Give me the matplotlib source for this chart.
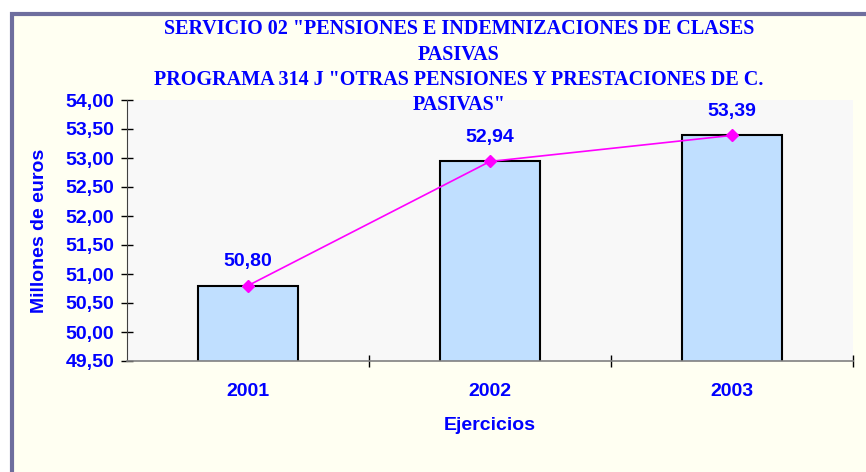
#!/usr/bin/env python3
import numpy as np
import matplotlib.pyplot as plt
from matplotlib.patches import Rectangle

years = ['2001', '2002', '2003']
values = [50.80, 52.94, 53.39]
yticks = [49.5, 50.0, 50.5, 51.0, 51.5, 52.0, 52.5, 53.0, 53.5, 54.0]
title_lines = ['SERVICIO 02 "PENSIONES E INDEMNIZACIONES DE CLASES',
               'PASIVAS',
               'PROGRAMA 314 J "OTRAS PENSIONES Y PRESTACIONES DE C.',
               'PASIVAS"']

BLUE = '#0000FF'
W, H = 866, 472

fig = plt.figure(figsize=(W / 100, H / 100), dpi=100, facecolor='white')
# chart frame
fig.patches.append(Rectangle((12 / W, -0.05), 1.1, (H - 14) / H + 0.05,
                             transform=fig.transFigure, facecolor='#FFFFF2',
                             edgecolor='#6E6E9E', linewidth=3, zorder=-5))

ax = fig.add_axes([127 / W, (H - 361) / H, 726 / W, 261 / H])
ax.set_facecolor('#F8F8F8')

x = np.arange(len(years))
ax.bar(x, values, width=0.41, bottom=0, color='#C0DFFF',
       edgecolor='black', linewidth=1.5, zorder=2)
ax.plot(x, values, color='#FF00FF', linewidth=1.2, marker='D',
        markersize=6, zorder=3)
for xi, v in zip(x, values):
    ax.annotate(f'{v:.2f}'.replace('.', ','), (xi, v), xytext=(0, 17.5),
                textcoords='offset points', ha='center', va='center',
                color=BLUE, fontsize=14, fontweight='bold',
                family='Liberation Sans')

ax.set_xlim(-0.5, 2.5)
ax.set_ylim(49.5, 54.0)
ax.set_yticks(yticks)
ax.set_yticklabels([f'{v:.2f}'.replace('.', ',') for v in yticks])
ax.set_xticks(x)
ax.set_xticklabels(years)
ax.set_xticks([0.5, 1.5, 2.5], minor=True)
ax.tick_params(axis='x', which='major', length=0, pad=16)
ax.tick_params(axis='x', which='minor', direction='inout', length=8, width=1)
ax.tick_params(axis='y', direction='inout', length=8, width=1, pad=5)
for lab in ax.get_xticklabels() + ax.get_yticklabels():
    lab.set_color(BLUE)
    lab.set_fontsize(14)
    lab.set_fontweight('bold')
    lab.set_family('Liberation Sans')

for s in ['top', 'right']:
    ax.spines[s].set_visible(False)
ax.spines['bottom'].set_color('#808080')
ax.spines['bottom'].set_linewidth(1.2)
ax.spines['left'].set_color('#404040')

ax.set_xlabel('Ejercicios', color=BLUE, fontsize=14, fontweight='bold',
              family='Liberation Sans', labelpad=12)
ax.set_ylabel('Millones de euros', color=BLUE, fontsize=14, fontweight='bold',
              family='Liberation Sans', labelpad=13)

for i, line in enumerate(title_lines):
    fig.text(459 / W, 1 - (29 + 25.5 * i) / H, line, ha='center', va='center',
             color=BLUE, fontsize=14.5, fontweight='bold',
             family='Liberation Serif')

fig.savefig('out.png', dpi=100, facecolor=fig.get_facecolor())
